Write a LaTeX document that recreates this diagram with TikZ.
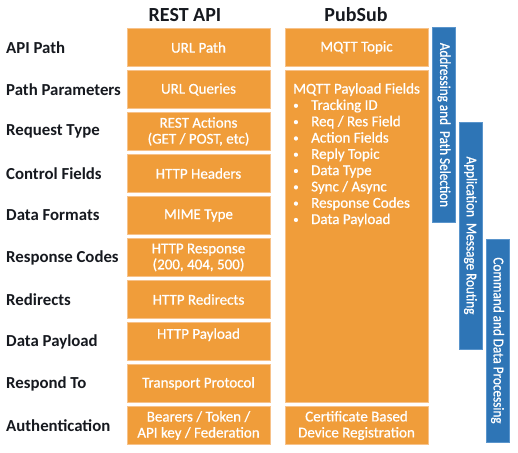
\documentclass[tikz,border=0pt]{standalone}
\usepackage{fontspec}
\setmainfont{Carlito}
\newfontfamily\boxfont[FakeBold=0.7]{Carlito}
\newfontfamily\barfont[FakeBold=0.7,FakeStretch=0.88]{Carlito}
\usetikzlibrary{positioning}
\definecolor{boxorange}{HTML}{F09D3A}
\definecolor{edgeorange}{HTML}{F7C28A}
\definecolor{barblue}{HTML}{2E75B6}
\definecolor{edgeblue}{HTML}{5A95CC}
\definecolor{labeldark}{HTML}{16191F}
\tikzset{
	rowlabel/.style={anchor=west, inner sep=0pt, text=labeldark, font=\fontsize{16.8}{18}\selectfont\bfseries},
	coltitle/.style={inner sep=0pt, text=labeldark, font=\fontsize{20}{24}\selectfont\bfseries},
	restbox/.style={draw=edgeorange, line width=1pt, fill=boxorange, text=white, align=center,
		minimum width=143, minimum height=38, inner sep=0pt, font=\boxfont\fontsize{15}{16}\selectfont},
	barbox/.style={draw=edgeblue, line width=1pt, fill=barblue, text=white, rotate=-90,
		minimum height=23, inner sep=0pt, font=\barfont\fontsize{15}{16}\selectfont},
}
\newcommand{\pbullet}{\makebox[18pt][l]{\raisebox{1pt}{\fontsize{11}{11}\selectfont\textbullet}}}
\begin{document}
\begin{tikzpicture}[x=1pt, y=-1pt]
			%%%%% START %%%%%
			\useasboundingbox (0, 0) rectangle (518, 452);
			
			\node[coltitle] (resttitle) at (185, 15) {REST API};
			\node[coltitle] (pubtitle) at (356, 15) {PubSub};
			
			\node[rowlabel] (lpath) at (6, 47.5) {API Path};
			\node[rowlabel] (lparams) at (6, 89.5) {Path Parameters};
			\node[rowlabel] (lrequest) at (6, 131.5) {Request Type};
			\node[rowlabel] (lcontrol) at (6, 173.5) {Control Fields};
			\node[rowlabel] (lformats) at (6, 215.5) {Data Formats};
			\node[rowlabel] (lcodes) at (6, 257.5) {Response Codes};
			\node[rowlabel] (lredirects) at (6, 299.5) {Redirects};
			\node[rowlabel] (lpayload) at (6, 341.5) {Data Payload};
			\node[rowlabel] (lrespond) at (6, 383.5) {Respond To};
			\node[rowlabel] (lauth) at (6, 425.5) {Authentication};
			
			\node[restbox] (rpath) at (198.5, 47.5) {URL Path};
			\node[restbox] (rparams) at (198.5, 89.5) {URL Queries};
			\node[restbox] (rrequest) at (198.5, 131.5) {REST Actions\\(GET / POST, etc)};
			\node[restbox] (rcontrol) at (198.5, 173.5) {HTTP Headers};
			\node[restbox] (rformats) at (198.5, 215.5) {MIME Type};
			\node[restbox] (rcodes) at (198.5, 257.5) {HTTP Response\\(200, 404, 500)};
			\node[restbox] (rredirects) at (198.5, 299.5) {HTTP Redirects};
			\node[restbox] (rpayload) at (198.5, 341.5) {HTTP Payload\\\mbox{}};
			\node[restbox] (rrespond) at (198.5, 383.5) {Transport Protocol};
			\node[restbox] (rauth) at (198.5, 425.5) {Bearers / Token /\\API key / Federation};
			
			\node[restbox] (ptopic) at (356.5, 47.5) {MQTT Topic};
			\node[restbox, minimum height=332] (pfields) at (356.5, 236.5) {};
			\node[anchor=north west, inner sep=0pt, text=white, align=left,
				font=\boxfont\fontsize{15}{16.3}\selectfont] (pfieldlist) at (293, 83) {MQTT Payload Fields\\
				\pbullet Tracking ID\\
				\pbullet Req / Res Field\\
				\pbullet Action Fields\\
				\pbullet Reply Topic\\
				\pbullet Data Type\\
				\pbullet Sync / Async\\
				\pbullet Response Codes\\
				\pbullet Data Payload};
			\node[restbox] (pauth) at (356.5, 425.5) {Certificate Based\\Device Registration};
			
			\node[barbox, minimum width=194] (baddress) at (444, 125) {Addressing and \ Path Selection\hspace{14pt}};
			\node[barbox, minimum width=227] (brouting) at (470.5, 235.5) {Application \ Message Routing};
			\node[barbox, minimum width=203] (bcommand) at (497.5, 340.5) {Command and Data Processing};
			
			%%%%% END %%%%%
\end{tikzpicture}
\end{document}
